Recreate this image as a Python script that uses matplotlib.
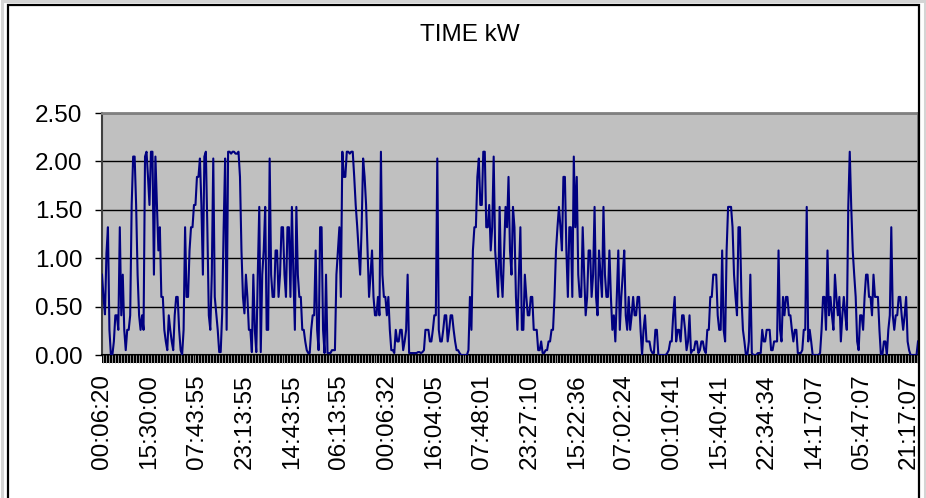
import matplotlib
matplotlib.use('Agg')
import matplotlib.pyplot as plt
from matplotlib.patches import Rectangle

plt.rcParams['font.family'] = ['Liberation Sans', 'DejaVu Sans']

# kW readings, one per sample
kw = [
    0.83, 0.60, 0.42, 1.05, 1.32, 0.26, 0.00, 0.00, 0.14, 0.41, 0.41, 0.26, 1.32, 0.41, 0.83, 0.26,
    0.05, 0.26, 0.26, 0.41, 1.55, 2.05, 2.05, 1.55, 0.83, 0.41, 0.26, 0.41, 0.26, 2.05, 2.10, 1.84,
    1.55, 2.10, 2.10, 0.83, 2.05, 1.55, 1.08, 1.32, 0.60, 0.60, 0.26, 0.14, 0.05, 0.41, 0.26, 0.14,
    0.05, 0.41, 0.60, 0.60, 0.26, 0.05, 0.00, 0.26, 1.32, 0.60, 0.60, 1.08, 1.32, 1.32, 1.55, 1.55,
    1.84, 1.84, 2.03, 1.55, 0.83, 2.05, 2.10, 1.32, 0.41, 0.26, 0.83, 2.03, 0.60, 0.43, 0.26, 0.03,
    0.03, 0.43, 1.32, 2.03, 0.26, 2.10, 2.10, 2.08, 2.10, 2.10, 2.08, 2.08, 2.10, 1.84, 1.08, 0.60,
    0.43, 0.83, 0.60, 0.26, 0.26, 0.03, 0.83, 0.26, 0.03, 0.83, 1.53, 0.03, 0.83, 1.08, 1.53, 0.26,
    0.26, 2.03, 0.83, 0.60, 0.60, 1.08, 1.08, 0.60, 0.83, 1.32, 1.32, 0.83, 0.60, 1.32, 1.32, 0.60,
    1.53, 0.83, 0.26, 1.53, 0.83, 0.60, 0.60, 0.26, 0.26, 0.14, 0.05, 0.02, 0.02, 0.26, 0.41, 0.41,
    1.08, 0.26, 0.05, 1.32, 1.32, 0.26, 0.02, 0.83, 0.02, 0.02, 0.02, 0.05, 0.05, 0.05, 0.83, 1.08,
    1.32, 0.60, 2.10, 1.84, 1.84, 2.10, 2.10, 2.08, 2.10, 2.10, 1.84, 1.55, 1.33, 1.08, 0.83, 1.32,
    2.03, 1.84, 1.55, 1.08, 0.60, 0.83, 1.08, 0.60, 0.41, 0.41, 0.60, 0.41, 2.10, 0.83, 0.60, 0.60,
    0.41, 0.60, 0.26, 0.05, 0.05, 0.02, 0.26, 0.14, 0.14, 0.26, 0.26, 0.05, 0.14, 0.26, 0.83, 0.02,
    0.02, 0.02, 0.02, 0.02, 0.02, 0.03, 0.03, 0.02, 0.03, 0.05, 0.26, 0.26, 0.26, 0.14, 0.14, 0.26,
    0.41, 0.41, 2.03, 0.26, 0.14, 0.14, 0.26, 0.41, 0.41, 0.14, 0.26, 0.41, 0.41, 0.26, 0.14, 0.05,
    0.05, 0.02, 0.00, 0.00, 0.00, 0.00, 0.00, 0.05, 0.60, 0.26, 1.08, 1.32, 1.32, 1.84, 2.03, 1.55,
    1.55, 2.10, 2.10, 1.32, 1.32, 1.55, 1.08, 1.32, 2.05, 1.08, 0.83, 0.60, 1.53, 0.83, 0.60, 1.08,
    1.53, 1.32, 1.84, 1.08, 0.83, 1.53, 1.32, 0.60, 0.26, 0.83, 1.32, 0.26, 0.26, 0.83, 0.60, 0.41,
    0.41, 0.60, 0.60, 0.26, 0.26, 0.26, 0.05, 0.05, 0.14, 0.02, 0.02, 0.05, 0.05, 0.14, 0.14, 0.26,
    0.26, 0.60, 1.08, 1.32, 1.53, 1.32, 1.08, 1.84, 1.84, 1.08, 0.60, 1.32, 1.32, 0.60, 2.05, 1.32,
    1.84, 0.83, 0.60, 0.60, 1.32, 0.83, 0.41, 0.60, 1.08, 1.08, 0.60, 0.83, 1.53, 0.60, 0.41, 1.08,
    0.83, 0.60, 1.53, 0.83, 0.60, 0.60, 1.08, 0.60, 0.26, 0.41, 0.14, 0.60, 1.08, 0.26, 0.60, 0.83,
    1.08, 0.41, 0.26, 0.60, 0.26, 0.41, 0.60, 0.41, 0.41, 0.60, 0.60, 0.26, 0.00, 0.26, 0.41, 0.14,
    0.14, 0.14, 0.05, 0.02, 0.02, 0.26, 0.26, 0.00, 0.00, 0.00, 0.00, 0.00, 0.00, 0.02, 0.05, 0.14,
    0.14, 0.41, 0.60, 0.14, 0.26, 0.26, 0.14, 0.41, 0.41, 0.26, 0.05, 0.14, 0.41, 0.02, 0.05, 0.05,
    0.14, 0.14, 0.02, 0.05, 0.14, 0.14, 0.05, 0.02, 0.26, 0.26, 0.60, 0.60, 0.83, 0.83, 0.83, 0.41,
    0.26, 0.26, 1.08, 0.26, 0.14, 1.08, 1.53, 1.53, 1.53, 1.32, 0.83, 0.60, 0.41, 1.32, 1.32, 0.60,
    0.26, 0.14, 0.00, 0.00, 0.14, 0.83, 0.02, 0.00, 0.00, 0.00, 0.02, 0.02, 0.02, 0.26, 0.14, 0.14,
    0.26, 0.26, 0.26, 0.05, 0.05, 0.14, 0.14, 0.14, 1.08, 0.26, 0.14, 0.60, 0.41, 0.60, 0.60, 0.41,
    0.41, 0.26, 0.14, 0.26, 0.26, 0.02, 0.02, 0.02, 0.05, 0.26, 0.26, 1.53, 0.14, 0.26, 0.14, 0.00,
    0.00, 0.00, 0.00, 0.00, 0.02, 0.26, 0.60, 0.60, 0.26, 1.08, 0.41, 0.60, 0.41, 0.26, 0.83, 0.60,
    0.41, 0.60, 0.14, 0.41, 0.60, 0.41, 0.26, 1.53, 2.10, 1.53, 1.08, 0.83, 0.60, 0.14, 0.05, 0.41,
    0.41, 0.26, 0.60, 0.83, 0.83, 0.60, 0.60, 0.41, 0.83, 0.60, 0.60, 0.60, 0.26, 0.00, 0.00, 0.14,
    0.14, 0.00, 0.26, 0.41, 1.32, 0.41, 0.26, 0.41, 0.41, 0.60, 0.60, 0.41, 0.26, 0.41, 0.60, 0.14,
    0.05, 0.00, 0.00, 0.00, 0.00, 0.00, 0.14,
]

# time stamps shown on the category axis, one every 32 samples
tick_labels = [
    "00:06:20", "15:30:00", "07:43:55", "23:13:55", "14:43:55", "06:13:55",
    "00:06:32", "16:04:05", "07:48:01", "23:27:10", "15:22:36", "07:02:24",
    "00:10:41", "15:40:41", "22:34:34", "14:17:07", "05:47:07", "21:17:07",
]
label_step = 32
mark_step = 2
y_ticks = [0.0, 0.5, 1.0, 1.5, 2.0, 2.5]

W, H = 926, 498
fig = plt.figure(figsize=(W / 100, H / 100), dpi=100)
fig.patch.set_facecolor('white')

# chart area frame (Excel style)
fig.add_artist(Rectangle((1.5 / W, -0.02), (W - 3) / W, 1.02 - 1.5 / H, transform=fig.transFigure,
                         fill=False, ec='#d4d4d4', lw=2.2))
fig.add_artist(Rectangle((8 / W, -0.02), (919 - 8) / W, 1.02 - 5 / H, transform=fig.transFigure,
                         fill=False, ec='black', lw=1.6))

ax = fig.add_axes([102 / W, 1 - 355 / H, (918 - 102) / W, (355 - 113) / H])
ax.set_facecolor('#c0c0c0')

x = list(range(len(kw)))
ax.plot(x, kw, color='#000080', lw=1.5, zorder=3)

ax.set_xlim(0, len(kw) - 1)
ax.set_ylim(0, 2.5)

ax.set_yticks(y_ticks)
ax.set_yticklabels([f'{v:.2f}' for v in y_ticks])
ax.grid(axis='y', color='black', lw=1.0)
ax.set_axisbelow(True)

label_pos = x[::label_step]
ax.set_xticks(label_pos)
ax.set_xticklabels(tick_labels[:len(label_pos)], rotation=90)

# dense category tick marks below the x axis: a dark band, with light gaps between marks
band_h = 8 / 242
ax.add_patch(Rectangle((0, -band_h), 1, band_h, transform=ax.transAxes,
                       facecolor='black', edgecolor='none', clip_on=False, zorder=5))
ax.vlines([p + 1 for p in x[:-1:mark_step]], -band_h, 0, transform=ax.get_xaxis_transform(),
          colors='#b0b0b0', lw=0.6, clip_on=False, zorder=6)

ax.tick_params(axis='y', length=5, width=1.0, color='black', pad=9, labelsize=17.5)
ax.tick_params(axis='x', length=0, pad=14, labelsize=17.5)

for side in ['top', 'right']:
    ax.spines[side].set_color('#808080')
    ax.spines[side].set_linewidth(2)
ax.spines['left'].set_color('#404040')
ax.spines['left'].set_linewidth(1.5)
ax.spines['bottom'].set_color('black')
ax.spines['bottom'].set_linewidth(1.5)

fig.text(470 / W, 1 - 35 / H, 'TIME kW', ha='center', va='center', fontsize=17.5)

fig.savefig('out.png', dpi=100, facecolor=fig.get_facecolor())
